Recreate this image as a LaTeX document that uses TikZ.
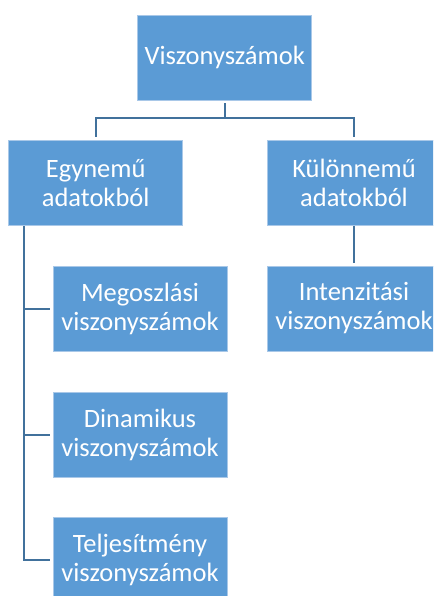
\documentclass[tikz,border=0pt]{standalone}
\usepackage{fontspec}
\setmainfont{Carlito}
\definecolor{boxfill}{HTML}{5B9BD5}
\definecolor{boxline}{HTML}{A9C8E8}
\definecolor{conn}{HTML}{41719C}
\begin{document}
\begin{tikzpicture}[x=1pt,y=-1pt,
  box/.style={draw=boxline,line width=0.8pt,fill=boxfill,text=white,minimum width=174pt,minimum height=85pt,inner sep=0pt,align=center,font=\fontsize{26.5}{29}\selectfont},
  link/.style={draw=conn,line width=2pt}]
\useasboundingbox (0,0) rectangle (433,596);
\clip (0,0) rectangle (433,596);
\node[box] (root) at (224.7,57.5) {Viszonyszámok};
\node[box] (egy) at (95.7,183) {Egynemű\\adatokból};
\node[box] (kul) at (354,183) {Különnemű\\adatokból};
\node[box] (meg) at (140,308.5) {Megoszlási\\viszonyszámok};
\node[box] (din) at (140,434.5) {Dinamikus\\viszonyszámok};
\node[box] (tel) at (140,559.5) {Teljesítmény\\viszonyszámok};
\node[box] (int) at (354,308.5) {Intenzitási\\viszonyszámok};
\coordinate (j) at (224.7,118);
\draw[link] ([yshift=-3pt]root.south) -- (j);
\draw[link] (j) -| ([yshift=3pt]egy.north);
\draw[link] (j) -| ([yshift=3pt]kul.north);
\draw[link] (kul.south) -- ([yshift=3pt]int.north);
\coordinate (s) at (24,226);
\draw[link] (s) |- ([xshift=-3pt]tel.west);
\draw[link] (s |- meg.west) -- ([xshift=-3pt]meg.west);
\draw[link] (s |- din.west) -- ([xshift=-3pt]din.west);
\end{tikzpicture}
\end{document}
